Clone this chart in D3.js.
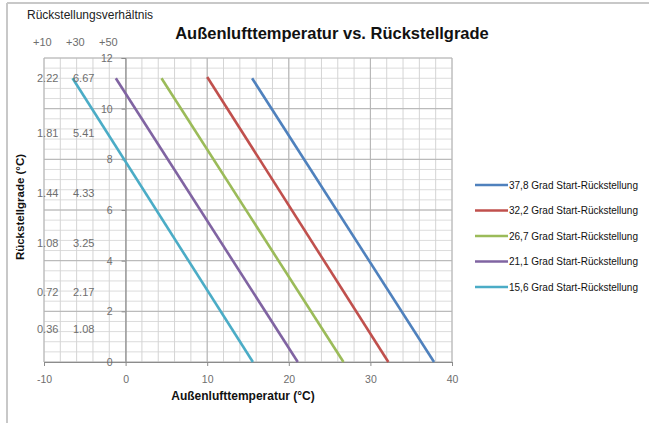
<!DOCTYPE html>
<html>
<head>
<meta charset="utf-8">
<script src="https://cdn.jsdelivr.net/npm/d3@7"></script>
<style>
  body{margin:0;background:#fff;font-family:"Liberation Sans",Arial,sans-serif}
</style>
</head>
<body>
<svg id="chart" width="649" height="423"></svg>
<script>
// series: start temperature (y=0) and end point at top
const seriesNames = ["37,8 Grad Start-Rückstellung","32,2 Grad Start-Rückstellung","26,7 Grad Start-Rückstellung","21,1 Grad Start-Rückstellung","15,6 Grad Start-Rückstellung"]
const seriesColors = ["#4f81bd","#c0504d","#9bbb59","#8064a2","#4bacc6"]
const startTemp = [37.8, 32.2, 26.7, 21.1, 15.6]
const endTemp = [15.5, 10.0, 4.4, -1.2, -6.5]
const endDeg = [11.2, 11.25, 11.2, 11.2, 11.2]

const xTicks = [-10, 0, 10, 20, 30, 40]
const yTicks = [0, 2, 4, 6, 8, 10, 12]

// ratio annotations on the left
const ratioHead = ["+10", "+30", "+50"]
const ratioLow = ["2.22","1.81","1.44","1.08","0.72","0.36"]
const ratioHigh = ["6.67","5.41","4.33","3.25","2.17","1.08"]
const ratioAt = [11.21, 9.04, 6.67, 4.70, 2.76, 1.30]

const svg = d3.select("#chart")
let x = d3.scaleLinear().domain([-10, 40]).range([44, 452])
let y = d3.scaleLinear().domain([0, 12]).range([362, 58])

// frame of the picture
svg.append("line").attr("x1",7).attr("x2",7).attr("y1",3).attr("y2",423).attr("stroke","#c8c8c8").attr("stroke-width",2)
svg.append("line").attr("x1",7).attr("x2",649).attr("y1",3).attr("y2",3).attr("stroke","#c8c8c8").attr("stroke-width",2)

// grid
const g = svg.append("g")
g.selectAll(".minY").data(d3.range(0, 12.01, 0.4)).join("line")
  .attr("x1", x(-10)).attr("x2", x(40)).attr("y1", d=>y(d)).attr("y2", d=>y(d))
  .attr("stroke", "#dcdcdc").attr("stroke-width", 1)
g.selectAll(".minX").data(d3.range(-10, 40.01, 2)).join("line")
  .attr("y1", y(0)).attr("y2", y(12)).attr("x1", d=>x(d)).attr("x2", d=>x(d))
  .attr("stroke", "#d4d4d4").attr("stroke-width", 1)
g.selectAll(".majY").data(yTicks).join("line")
  .attr("x1", x(-10)).attr("x2", x(40)).attr("y1", d=>y(d)).attr("y2", d=>y(d))
  .attr("stroke", "#b4b4b4").attr("stroke-width", 1)
g.selectAll(".majX").data(xTicks).join("line")
  .attr("y1", y(0)).attr("y2", y(12)).attr("x1", d=>x(d)).attr("x2", d=>x(d))
  .attr("stroke", "#b4b4b4").attr("stroke-width", 1)

// axes (y axis crosses at x=0)
svg.append("g").attr("transform", `translate(0,${y(0)})`)
  .call(d3.axisBottom(x).tickValues(xTicks).tickFormat(d=>String(d)).tickSize(4).tickPadding(10))
  .call(a=>a.select(".domain").attr("stroke","#8c8c8c"))
  .call(a=>a.selectAll("line").attr("stroke","#8c8c8c"))
  .call(a=>a.selectAll("text").attr("fill","#6e6e6e").attr("font-size",10.5).attr("font-family","Liberation Sans, Arial"))
svg.append("g").attr("transform", `translate(${x(0)},0)`)
  .call(d3.axisLeft(y).tickValues(yTicks).tickSize(4).tickPadding(9))
  .call(a=>a.select(".domain").attr("stroke","#8c8c8c"))
  .call(a=>a.selectAll("line").attr("stroke","#8c8c8c"))
  .call(a=>a.selectAll("text").attr("fill","#6e6e6e").attr("font-size",10.5).attr("font-family","Liberation Sans, Arial"))

// series lines
const lineGen = d3.line().x(d=>x(d[0])).y(d=>y(d[1]))
startTemp.forEach((t,i)=>{
  svg.append("path")
    .datum([[t,0],[endTemp[i],endDeg[i]]])
    .attr("d", lineGen)
    .attr("fill","none")
    .attr("stroke", seriesColors[i])
    .attr("stroke-width", 2.6)
})

// ratio annotations
const txt = svg.append("g").attr("font-family","Liberation Sans, Arial").attr("fill","#6e6e6e").attr("font-size",11)
txt.selectAll(".head").data(ratioHead).join("text")
  .attr("x",(d,i)=>33+i*33).attr("y",46).text(d=>d)
txt.selectAll(".low").data(ratioLow).join("text")
  .attr("x",37).attr("y",(d,i)=>y(ratioAt[i])+4).text(d=>d)
txt.selectAll(".high").data(ratioHigh).join("text")
  .attr("x",73).attr("y",(d,i)=>y(ratioAt[i])+4).text(d=>d)

// titles
svg.append("text").attr("x",27).attr("y",19).attr("font-size",12).attr("fill","#222").text("Rückstellungsverhältnis")
svg.append("text").attr("x",332).attr("y",39).attr("text-anchor","middle")
  .attr("font-size",16.5).attr("font-weight","bold").attr("fill","#111").text("Außenlufttemperatur vs. Rückstellgrade")
svg.append("text").attr("x",243).attr("y",400).attr("text-anchor","middle")
  .attr("font-size",12).attr("font-weight","bold").attr("fill","#111").text("Außenlufttemperatur (°C)")
svg.append("text").attr("transform","translate(24,207) rotate(-90)").attr("text-anchor","middle")
  .attr("font-size",11.5).attr("font-weight","bold").attr("fill","#111").text("Rückstellgrade (°C)")

// legend
const leg = svg.append("g")
seriesNames.forEach((n,i)=>{
  let ly = 185 + i*25.5
  leg.append("line").attr("x1",475).attr("x2",508).attr("y1",ly).attr("y2",ly)
    .attr("stroke",seriesColors[i]).attr("stroke-width",2.6)
  leg.append("text").attr("x",509).attr("y",ly+3.5).attr("font-size",10).attr("fill","#111").text(n)
})
</script>
</body>
</html>
